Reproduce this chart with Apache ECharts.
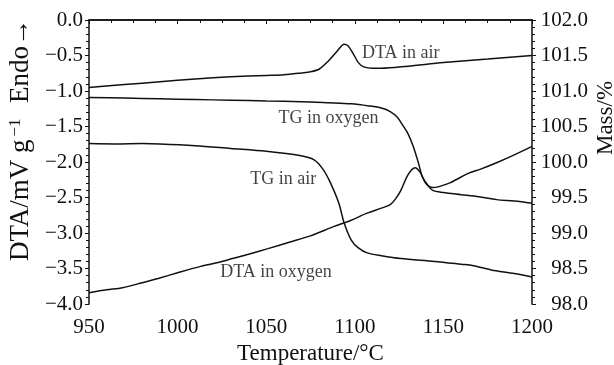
<!DOCTYPE html>
<html>
<head>
<meta charset="UTF-8">
<title>DTA / TG</title>
<script src="https://cdn.jsdelivr.net/npm/echarts@6/dist/echarts.min.js"></script>
<style>
  html, body { margin: 0; padding: 0; background: #fff; }
  #chart { width: 614px; height: 365px; }
</style>
</head>
<body>
<div id="chart"></div>
<script>
  // DTA (left axis, mV/g) and TG (right axis, mass %)
  var dtaAir = [
    [950, -0.95], [970, -0.91], [990, -0.87], [1010, -0.83], [1030, -0.80],
    [1050, -0.78], [1060, -0.77], [1070, -0.745], [1075, -0.73], [1080, -0.69],
    [1085, -0.58], [1090, -0.44], [1094, -0.34], [1096, -0.36], [1099, -0.47],
    [1102, -0.60], [1105, -0.66], [1110, -0.68], [1115, -0.68], [1130, -0.65],
    [1150, -0.60], [1175, -0.55], [1200, -0.50]
  ];
  var dtaOxygen = [
    [950, -3.84], [960, -3.80], [969, -3.77], [980, -3.70], [989, -3.64],
    [1000, -3.56], [1013, -3.47], [1022, -3.42], [1031, -3.36], [1040, -3.30],
    [1051, -3.22], [1063, -3.13], [1075, -3.04], [1088, -2.91], [1098, -2.82],
    [1107, -2.72], [1115, -2.65], [1120, -2.60], [1123, -2.52], [1126, -2.40],
    [1130, -2.18], [1134, -2.08], [1137, -2.15], [1140, -2.30], [1144, -2.36],
    [1147, -2.35], [1154, -2.29], [1164, -2.16], [1171, -2.10], [1181, -2.00],
    [1190, -1.90], [1200, -1.78]
  ];
  var tgOxygen = [
    [950, 100.91], [970, 100.90], [990, 100.89], [1010, 100.88], [1030, 100.87],
    [1050, 100.86], [1070, 100.85], [1085, 100.835], [1098, 100.82], [1108, 100.79],
    [1115, 100.76], [1120, 100.71], [1124, 100.63], [1127, 100.52], [1130, 100.40],
    [1133, 100.22], [1136, 99.98], [1138, 99.80], [1141, 99.68], [1144, 99.60],
    [1150, 99.57], [1160, 99.54], [1170, 99.51], [1180, 99.47], [1190, 99.45],
    [1200, 99.42]
  ];
  var tgAir = [
    [950, 100.26], [965, 100.255], [980, 100.26], [990, 100.255], [1010, 100.23],
    [1030, 100.19], [1050, 100.15], [1069, 100.09], [1077, 100.03], [1082, 99.90],
    [1086, 99.72], [1091, 99.42], [1094, 99.14], [1098, 98.90], [1102, 98.79],
    [1107, 98.72], [1115, 98.68], [1126, 98.64], [1145, 98.60], [1160, 98.56],
    [1167, 98.54], [1177, 98.48], [1190, 98.43], [1200, 98.38]
  ];
  // curve captions: [text, temperature, DTA-axis value]
  var captions = [
    ['DTA in air', 1104, -0.465],
    ['TG in oxygen', 1057, -1.38],
    ['TG in air', 1041, -2.25],
    ['DTA in oxygen', 1024, -3.56]
  ];

  var FONT = "'Liberation Serif', 'DejaVu Serif', serif";
  var INK = '#111';

  function minus(v) {
    return v.toFixed(1).replace('-', '\u2212');
  }

  function curve(name, data, axis) {
    return {
      name: name,
      type: 'line',
      yAxisIndex: axis,
      data: data,
      showSymbol: false,
      smooth: 0.3,
      lineStyle: { color: INK, width: 1.5 },
      z: 3
    };
  }

  var chart = echarts.init(document.getElementById('chart'));

  var option = {
    animation: false,
    backgroundColor: '#fff',
    grid: { left: 89, right: 82, top: 20, bottom: 61, outerBoundsMode: 'none', containLabel: false },
    xAxis: [{
      type: 'value',
      min: 950, max: 1200, interval: 50,
      name: 'Temperature/\u00B0C',
      nameLocation: 'middle',
      nameGap: 36,
      nameTextStyle: { fontFamily: FONT, fontSize: 23, color: INK },
      axisLine: { lineStyle: { color: INK, width: 1.5 } },
      axisTick: { length: 4, lineStyle: { color: INK } },
      axisLabel: { fontFamily: FONT, fontSize: 21, color: INK, margin: 13, formatter: function (v) { return String(v); } },
      splitLine: { show: false }
    }, {
      type: 'value',
      position: 'top',
      min: 950, max: 1200, interval: 50,
      axisLine: { lineStyle: { color: INK, width: 1.5 } },
      axisTick: { inside: true, length: 3, lineStyle: { color: INK } },
      minorTick: { show: true, splitNumber: 4, length: 3, lineStyle: { color: INK } },
      axisLabel: { show: false },
      splitLine: { show: false }
    }],
    yAxis: [{
      type: 'value',
      min: -4, max: 0, interval: 0.5,
      name: '{a|DTA/mV g}{s|\u22121}{a|  Endo\u2192}',
      nameLocation: 'middle',
      nameRotate: 90,
      nameGap: 55,
      nameTextStyle: {
        fontFamily: FONT, fontSize: 27, color: INK, padding: [0, 0, 0, 44],
        rich: {
          a: { fontFamily: FONT, fontSize: 27, color: INK },
          s: { fontFamily: FONT, fontSize: 17, color: INK, verticalAlign: 'top', padding: [0, 2, 9, 3] }
        }
      },
      axisLine: { show: true, lineStyle: { color: INK, width: 1.5 } },
      axisTick: { length: 4, lineStyle: { color: INK } },
      minorTick: { show: true, splitNumber: 5, length: 3, lineStyle: { color: INK } },
      axisLabel: { fontFamily: FONT, fontSize: 21, color: INK, margin: 6, formatter: minus },
      splitLine: { show: false }
    }, {
      type: 'value',
      position: 'right',
      min: 98, max: 102, interval: 0.5,
      name: 'Mass/%',
      nameLocation: 'middle',
      nameRotate: 90,
      nameGap: 62,
      nameMoveOverlap: false,
      nameTextStyle: { fontFamily: FONT, fontSize: 23, color: INK, padding: [0, 0, 0, 88] },
      axisLine: { show: true, lineStyle: { color: INK, width: 1.5 } },
      axisTick: { length: 4, lineStyle: { color: INK } },
      minorTick: { show: true, splitNumber: 5, length: 3, lineStyle: { color: INK } },
      axisLabel: { fontFamily: FONT, fontSize: 21, color: INK, margin: 56, align: 'right', formatter: minus },
      splitLine: { show: false }
    }],
    series: [
      curve('DTA in air', dtaAir, 0),
      curve('DTA in oxygen', dtaOxygen, 0),
      curve('TG in oxygen', tgOxygen, 1),
      curve('TG in air', tgAir, 1),
      {
        type: 'scatter',
        yAxisIndex: 0,
        symbolSize: 0,
        silent: true,
        data: captions.map(function (c) { return [c[1], c[2], c[0]]; }),
        label: {
          show: true,
          position: 'right',
          distance: 0,
          fontFamily: FONT,
          fontSize: 18,
          color: INK,
          formatter: function (p) { return p.data[2]; }
        },
        z: 4
      }
    ]
  };

  chart.setOption(option);
</script>
</body>
</html>
